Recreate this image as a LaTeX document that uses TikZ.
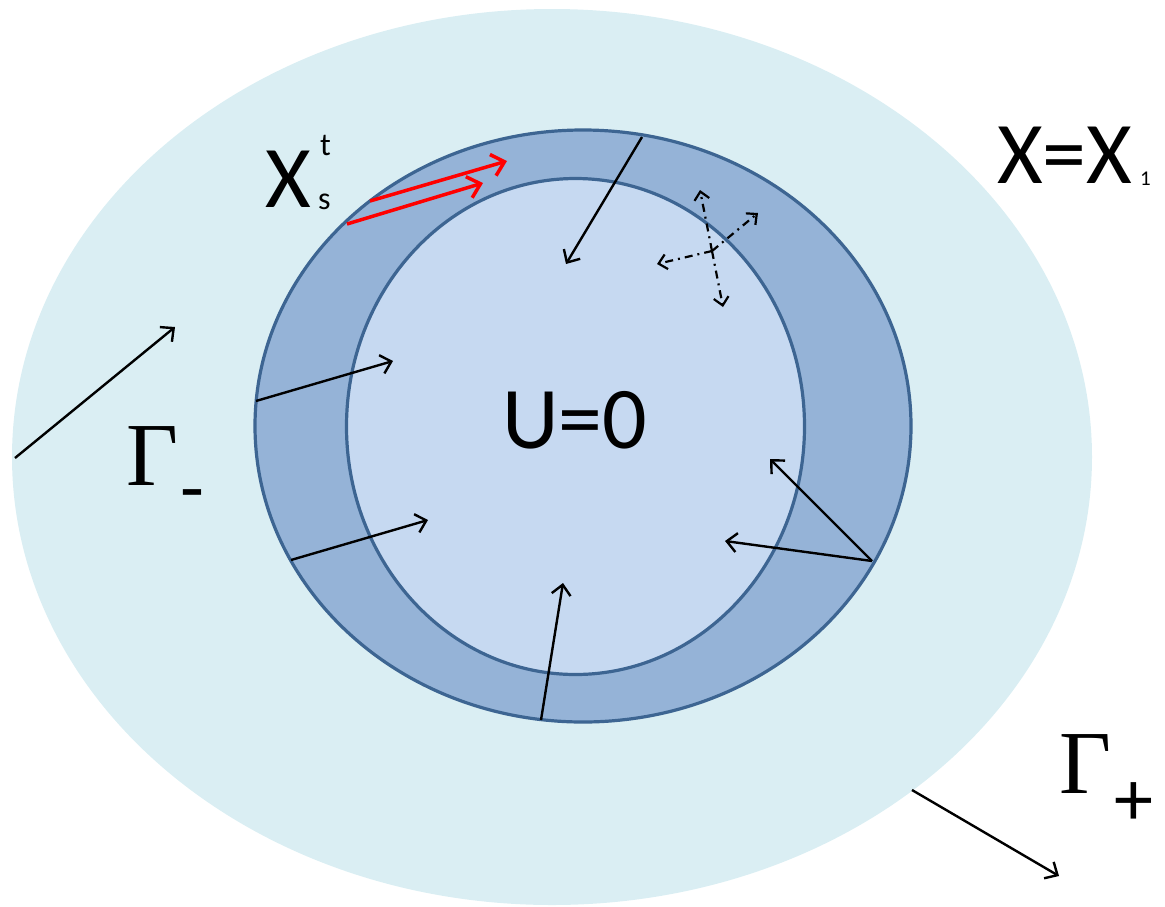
\documentclass[tikz,border=0pt]{standalone}
\usepackage{fontspec}
\setmainfont{Carlito}
\newfontfamily\gammafont{Liberation Serif}
\usetikzlibrary{arrows.meta}
\definecolor{domainfill}{HTML}{DAEEF3}
\definecolor{bandfill}{HTML}{95B3D7}
\definecolor{corefill}{HTML}{C6D9F1}
\definecolor{rimline}{HTML}{3D6592}
\definecolor{pathred}{HTML}{FF0000}

\begin{document}
\begin{tikzpicture}[x=1pt,y=-1pt,
    every node/.style={inner sep=0pt,text=black},
    bigtxt/.style={font=\fontsize{88}{88}\selectfont},
    smalltxt/.style={font=\fontsize{32}{32}\selectfont},
    gammatxt/.style={font=\gammafont\fontsize{90}{90}\selectfont},
    signtxt/.style={font=\fontsize{78}{78}\selectfont},
    rim/.style={draw=rimline,line width=3.2pt},
    flow/.style={-{Straight Barb[length=10pt,width=19pt]},line width=2.4pt},
    probe/.style={-{Straight Barb[length=8pt,width=15pt]},line width=2.2pt,
      dash pattern=on 8pt off 5pt on 2pt off 5pt},
    track/.style={-{Straight Barb[length=12pt,width=22pt]},line width=3.5pt,pathred},
  ]
  \useasboundingbox (0,0) rectangle (1165,906);
  % regions
  \fill[domainfill] (552,457) ellipse [x radius=540,y radius=448];
  \filldraw[rim,fill=bandfill] (583,426) ellipse [x radius=328,y radius=296];
  \filldraw[rim,fill=corefill] (575.5,426.5) ellipse [x radius=229,y radius=248];
  % labels
  \node[bigtxt,anchor=base west] (xs) at (265,207) {X};
  \node[smalltxt,anchor=base west] (xst) at (320,155) {t};
  \node[smalltxt,anchor=base west] (xss) at (318,209) {s};
  \node[bigtxt,anchor=base west] (xeq) at (997,183) {X=X};
  \node[font=\fontsize{21}{21}\selectfont,anchor=base west] (xone) at (1140,185) {1};
  \node[bigtxt,anchor=base west] (uzero) at (502,448) {U=0};
  \node[gammatxt,anchor=base west] (gminus) at (126,485) {Γ};
  \node[signtxt,anchor=base west] (gminuss) at (180,514) {-};
  \node[gammatxt,anchor=base west] (gplus) at (1059,793) {Γ};
  \node[signtxt,anchor=base west] (gpluss) at (1114,825) {+};
  % boundary arrows
  \coordinate (inlet) at (15,458);   \coordinate (inlettip) at (175,327);
  \coordinate (outlet) at (912,790); \coordinate (outlettip) at (1059,876);
  \draw[flow] (inlet) -- (inlettip);
  \draw[flow] (outlet) -- (outlettip);
  % arrows into the core
  \coordinate (bandW) at (256,401);  \coordinate (coreW) at (393,361);
  \coordinate (bandSW) at (291,560); \coordinate (coreSW) at (428,520);
  \coordinate (bandS) at (541,720);  \coordinate (coreS) at (563,583);
  \coordinate (bandN) at (642,137);  \coordinate (coreN) at (566,264);
  \coordinate (bandE) at (872,561);  \coordinate (coreE) at (770,459);
  \coordinate (coreSE) at (725,541);
  \draw[flow] (bandW) -- (coreW);
  \draw[flow] (bandSW) -- (coreSW);
  \draw[flow] (bandS) -- (coreS);
  \draw[flow] (bandN) -- (coreN);
  \draw[flow] (bandE) -- (coreE);
  \draw[flow] (bandE) -- (coreSE);
  % red trajectories
  \coordinate (trackA) at (370,201); \coordinate (trackAtip) at (507,161);
  \coordinate (trackB) at (347,224); \coordinate (trackBtip) at (483,183);
  \draw[track] (trackA) -- (trackAtip);
  \draw[track] (trackB) -- (trackBtip);
  % dash-dot probes
  \coordinate (hub) at (712,251);
  \coordinate (hubup) at (700,190);
  \coordinate (hubne) at (758,213);
  \coordinate (hubw) at (657,264);
  \coordinate (hubdn) at (723,307);
  \foreach \tip in {hubup,hubne,hubw,hubdn}
    \draw[probe] (hub) -- (\tip);
\end{tikzpicture}
\end{document}
